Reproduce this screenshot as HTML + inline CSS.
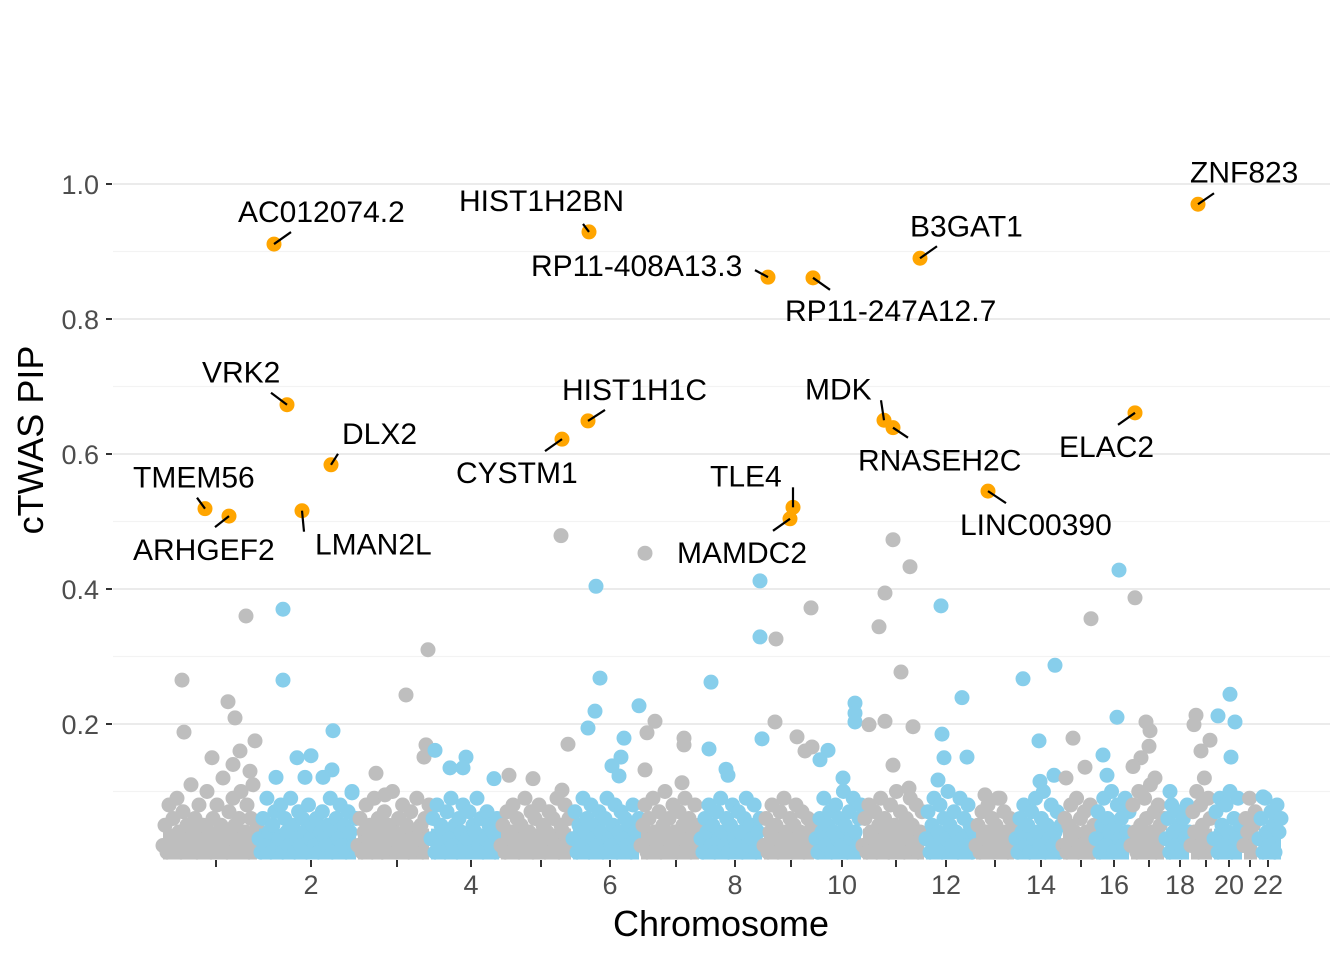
<!DOCTYPE html>
<html><head><meta charset="utf-8">
<style>
html,body{margin:0;padding:0;background:#fff;}
svg{display:block;font-family:"Liberation Sans",Arial,sans-serif;}
</style></head>
<body>
<svg id="chart" width="1344" height="960" viewBox="0 0 1344 960" xmlns="http://www.w3.org/2000/svg">
  <g id="grid"></g>
  <g id="points"></g>
  <g id="labels"></g>
  <g id="axes"></g>
  <text x="721" y="936" font-size="36" text-anchor="middle" fill="#000">Chromosome</text>
  <text transform="translate(43,440) rotate(-90)" font-size="36" text-anchor="middle" fill="#000">cTWAS PIP</text>
</svg>
<script>
// ---- data ----
const chrBounds = [0,96,195,268,338,410,478,538,601,653,700,763,813,853,900,933,968,1003,1028,1051,1081,1096,1120];
const chrTicks = [54,149,235,309,379,448,514,573,629,680,734,784,833,879,919,952,987,1018,1044,1067,1088,1106];
const chrTickLabels = ["","2","","4","","6","","8","","10","","12","","14","","16","","18","","20","","22"];
const yTicks = [0.2,0.4,0.6,0.8,1.0];
const yTickLabels = ["0.2","0.4","0.6","0.8","1.0"];
const yMinor = [0.1,0.3,0.5,0.7,0.9];

const low1=[0.02,0.05,0.01,0.08,0.03,0.06,0.02,0.09,0.04,0.01,0.07,0.03,0.05,0.02,0.11,0.04,0.06,0.01,0.08,0.03,0.05,0.02,0.10,0.04,0.01,0.06,0.03,0.08,0.02,0.05,0.12,0.04,0.01,0.07,0.03,0.09,0.05,0.02,0.06,0.10,0.03,0.04,0.08,0.01,0.06,0.11,0.02,0.05];
const low2=[0.03,0.01,0.06,0.02,0.09,0.04,0.01,0.05,0.07,0.02,0.03,0.08,0.01,0.06,0.04,0.02,0.09,0.05,0.01,0.03,0.07,0.02,0.06,0.04,0.01,0.08,0.03,0.05,0.02,0.06,0.01,0.04,0.07,0.03,0.02,0.05,0.09,0.01,0.04,0.06,0.03,0.08,0.02,0.05,0.01,0.07,0.04,0.10,0.02,0.06];
const low3=[0.02,0.06,0.01,0.04,0.08,0.03,0.05,0.01,0.09,0.02,0.06,0.04,0.01,0.07,0.03,0.05,0.02,0.10,0.04,0.01,0.06,0.03,0.08,0.02,0.05,0.01,0.07,0.04,0.03,0.09,0.02,0.05,0.01,0.06,0.03,0.08];
const low4=[0.03,0.06,0.01,0.08,0.02,0.05,0.04,0.01,0.07,0.03,0.09,0.02,0.05,0.01,0.06,0.04,0.08,0.02,0.03,0.07,0.01,0.05,0.04,0.09,0.02,0.06,0.01,0.03,0.07,0.05,0.02,0.04,0.01,0.06,0.03];
const low5=[0.02,0.05,0.01,0.07,0.03,0.04,0.08,0.02,0.06,0.01,0.05,0.03,0.09,0.02,0.04,0.07,0.01,0.06,0.03,0.08,0.02,0.05,0.01,0.04,0.07,0.03,0.06,0.02,0.09,0.01,0.05,0.04,0.08,0.02,0.06,0.03];
const low6=[0.03,0.07,0.01,0.05,0.02,0.09,0.04,0.06,0.01,0.08,0.03,0.05,0.02,0.07,0.04,0.01,0.06,0.09,0.03,0.02,0.05,0.08,0.01,0.04,0.07,0.03,0.06,0.02,0.05,0.01,0.08,0.04,0.03,0.06];
const low7=[0.02,0.05,0.08,0.01,0.06,0.03,0.09,0.04,0.02,0.07,0.01,0.05,0.10,0.03,0.06,0.02,0.08,0.04,0.01,0.07,0.03,0.05,0.09,0.02,0.06,0.01,0.04,0.08,0.03,0.05];
const low8=[0.03,0.01,0.06,0.04,0.08,0.02,0.05,0.01,0.07,0.03,0.09,0.04,0.02,0.06,0.01,0.05,0.08,0.03,0.02,0.07,0.04,0.01,0.06,0.09,0.02,0.05,0.03,0.08,0.01,0.04,0.06,0.02];
const low9=[0.02,0.06,0.01,0.04,0.08,0.03,0.05,0.01,0.07,0.02,0.09,0.04,0.03,0.06,0.01,0.05,0.08,0.02,0.04,0.07,0.01,0.03,0.06,0.02,0.05,0.04];
const low10=[0.03,0.01,0.06,0.04,0.09,0.02,0.05,0.07,0.01,0.04,0.08,0.03,0.06,0.02,0.10,0.05,0.01,0.07,0.03,0.09,0.04,0.02,0.06,0.08];
const low11=[0.02,0.06,0.01,0.08,0.04,0.03,0.07,0.01,0.05,0.09,0.02,0.06,0.04,0.01,0.08,0.03,0.05,0.10,0.02,0.07,0.04,0.01,0.06,0.03,0.09,0.05,0.02,0.08,0.01,0.04,0.07,0.03];
const low12=[0.03,0.07,0.01,0.05,0.09,0.02,0.04,0.08,0.01,0.06,0.03,0.10,0.05,0.02,0.07,0.04,0.01,0.09,0.03,0.06,0.02,0.08,0.05,0.01,0.04];
const low13=[0.02,0.05,0.01,0.07,0.03,0.04,0.08,0.02,0.06,0.01,0.05,0.09,0.03,0.02,0.07,0.04,0.01,0.06,0.03,0.05];
const low14=[0.03,0.01,0.06,0.04,0.08,0.02,0.05,0.01,0.07,0.03,0.09,0.04,0.02,0.06,0.10,0.01,0.05,0.03,0.08,0.02,0.04,0.07,0.01,0.05];
const low15=[0.02,0.06,0.01,0.05,0.08,0.03,0.04,0.09,0.01,0.06,0.02,0.07,0.04,0.03,0.08,0.01,0.05];
const low16=[0.03,0.07,0.01,0.05,0.09,0.02,0.06,0.04,0.10,0.01,0.05,0.08,0.03,0.06,0.02,0.09,0.04,0.07];
const low17=[0.02,0.08,0.04,0.01,0.10,0.05,0.03,0.09,0.06,0.02,0.11,0.04,0.07,0.01,0.08,0.05,0.03,0.06];
const low18=[0.03,0.06,0.01,0.08,0.04,0.02,0.07,0.05,0.01,0.06,0.03,0.08,0.04];
const low19=[0.02,0.07,0.04,0.10,0.01,0.08,0.05,0.12,0.03,0.09,0.06,0.02];
const low20=[0.03,0.07,0.01,0.09,0.05,0.02,0.08,0.04,0.10,0.01,0.06,0.03,0.09,0.05,0.02];
const low21=[0.02,0.06,0.04,0.09,0.01,0.05,0.07,0.03];
const low22=[0.03,0.06,0.01,0.09,0.04,0.02,0.07,0.05,0.01,0.08,0.04,0.06];
const lowByChr=[low1,low2,low3,low4,low5,low6,low7,low8,low9,low10,low11,low12,low13,low14,low15,low16,low17,low18,low19,low20,low21,low22];
const floorPip = 0.045;

const midPos=[
 20,22,66,84,73,93,50,78,71,88,
 121,121,171,135,149,114,143,170,161,190,
 266,244,214,264,262,223,
 273,304,288,301,332,
 399,406,347,371,400,
 434,438,433,426,477,462,459,450,457,
 483,493,485,522,522,483,520,
 549,547,564,566,598,598,600,
 614,649,613,635,643,650,
 693,693,693,666,658,681,
 731,748,723,717,739,723,707,751,731,747,
 779,800,780,805,782,776,
 823,838,
 861,877,893,892,878,
 929,911,923,904,
 957,955,941,945,
 973,984,988,987,979,971,993,
 1008,
 1034,1032,1048,1039,
 1068,1056,1073,1069,
 1101];
const midPip=[
 .265,.188,.233,.36,.209,.175,.15,.16,.14,.13,
 .37,.265,.19,.15,.153,.121,.121,.132,.121,.098,
 .31,.243,.127,.169,.151,.095,
 .161,.151,.135,.135,.119,
 .479,.17,.124,.119,.102,
 .404,.268,.219,.194,.227,.179,.151,.138,.123,
 .453,.204,.187,.179,.169,.132,.113,
 .262,.163,.133,.124,.412,.329,.178,
 .326,.372,.203,.181,.16,.166,
 .231,.216,.203,.161,.147,.12,
 .473,.433,.394,.344,.277,.204,.199,.196,.139,.105,
 .375,.239,.185,.151,.15,.117,
 .095,.09,
 .267,.175,.287,.124,.115,
 .356,.179,.136,.12,
 .428,.21,.154,.124,
 .387,.203,.19,.167,.15,.137,.12,
 .1,
 .213,.199,.176,.16,
 .244,.212,.203,.151,
 .092];

const hiGenes=["AC012074.2","HIST1H2BN","RP11-408A13.3","RP11-247A12.7","B3GAT1","ZNF823","VRK2","DLX2","TMEM56","ARHGEF2","LMAN2L","CYSTM1","HIST1H1C","TLE4","MAMDC2","MDK","RNASEH2C","LINC00390","ELAC2"];
const hiPos=[112,427,606,651,758,1036,125,169,43,67,140,400,426,631,628,722,731,826,973];
const hiPip=[0.911,0.929,0.862,0.861,0.890,0.970,0.673,0.584,0.519,0.508,0.516,0.622,0.649,0.521,0.504,0.650,0.639,0.545,0.661];
</script>
<script>
const NS="http://www.w3.org/2000/svg";
const X0=162, X1=1282, D0=0, D1=1120;
const Y0=859, YH=675;
function xs(v){return X0+(v-D0)/(D1-D0)*(X1-X0);}
function ys(v){return Y0-v*YH;}
function el(tag,attrs,parent){const e=document.createElementNS(NS,tag);for(const k in attrs)e.setAttribute(k,attrs[k]);parent.appendChild(e);return e;}
const gGrid=document.getElementById('grid'),gPts=document.getElementById('points'),gLab=document.getElementById('labels'),gAx=document.getElementById('axes');
const GRAY="#BEBEBE",BLUE="#87CEEB",ORANGE="#FFA500",R=7.5;
function chrOf(p){for(let i=0;i<chrBounds.length-1;i++){if(p<chrBounds[i+1])return i;}return chrBounds.length-2;}

yMinor.forEach(v=>{const l=el('line',{x1:113,x2:1330,y1:ys(v),y2:ys(v),stroke:'#F3F3F3','stroke-width':1.2},gGrid);

});
yTicks.forEach((v,i)=>{const l=el('line',{x1:113,x2:1330,y1:ys(v),y2:ys(v),stroke:'#EBEBEB','stroke-width':2},gGrid);


const t=el('line',{x1:106,x2:112,y1:ys(v),y2:ys(v),stroke:'#333','stroke-width':2},gAx);


const tx=el('text',{x:99,y:ys(v)+10,'font-size':27,'text-anchor':'end',fill:'#4D4D4D'},gAx);tx.textContent=yTickLabels[i];

});
chrTicks.forEach((v,i)=>{const t=el('line',{x1:xs(v),x2:xs(v),y1:860,y2:867,stroke:'#333','stroke-width':2},gAx);


if(chrTickLabels[i]){const tx=el('text',{x:xs(v),y:894,'font-size':27,'text-anchor':'middle',fill:'#4D4D4D'},gAx);tx.textContent=chrTickLabels[i];

}});

lowByChr.forEach((arr,c)=>{const s=chrBounds[c],e=chrBounds[c+1];
const f=el('rect',{x:xs(s)+1,y:ys(floorPip),width:xs(e)-xs(s)-2,height:Y0-ys(floorPip)+0.5,fill:c%2?BLUE:GRAY},gPts);


arr.forEach((v,i)=>{const p=s+(i+0.5)/arr.length*(e-s);
const d=el('circle',{cx:xs(p),cy:ys(v),r:R,fill:c%2?BLUE:GRAY},gPts);

});});
midPos.forEach((p,i)=>{const c=chrOf(p);
const d=el('circle',{cx:xs(p),cy:ys(midPip[i]),r:R,fill:c%2?BLUE:GRAY},gPts);

});

const labDX=[-36,-130,-237,-28,-10,-8,-85,11,-72,-96,13,-106,-26,-83,-113,-79,-35,-28,-76];
const labDY=[-22,-21,-1,43,-22,-22,-22,-21,-21,44,44,44,-21,-21,44,-21,43,44,44];
const segDX=[17,-6,-13,17,17,16,-16,7,-8,-14,2,-17,17,0,-17,-3,15,18,-17];
const segDY=[-12,-8,-7,12,-12,-11,-12,-11,-11,11,21,12,-11,-20,12,-20,10,12,12];
hiGenes.forEach((g,i)=>{const cx=xs(hiPos[i]),cy=ys(hiPip[i]);
const ln=el('line',{x1:cx,y1:cy,x2:cx+segDX[i],y2:cy+segDY[i],stroke:'#000','stroke-width':2.2},gLab);


const d=el('circle',{cx:cx,cy:cy,r:R,fill:ORANGE},gPts);


const t=el('text',{x:cx+labDX[i],y:cy+labDY[i],'font-size':30,fill:'#000'},gLab);t.textContent=g;

});
</script>
</body></html>
